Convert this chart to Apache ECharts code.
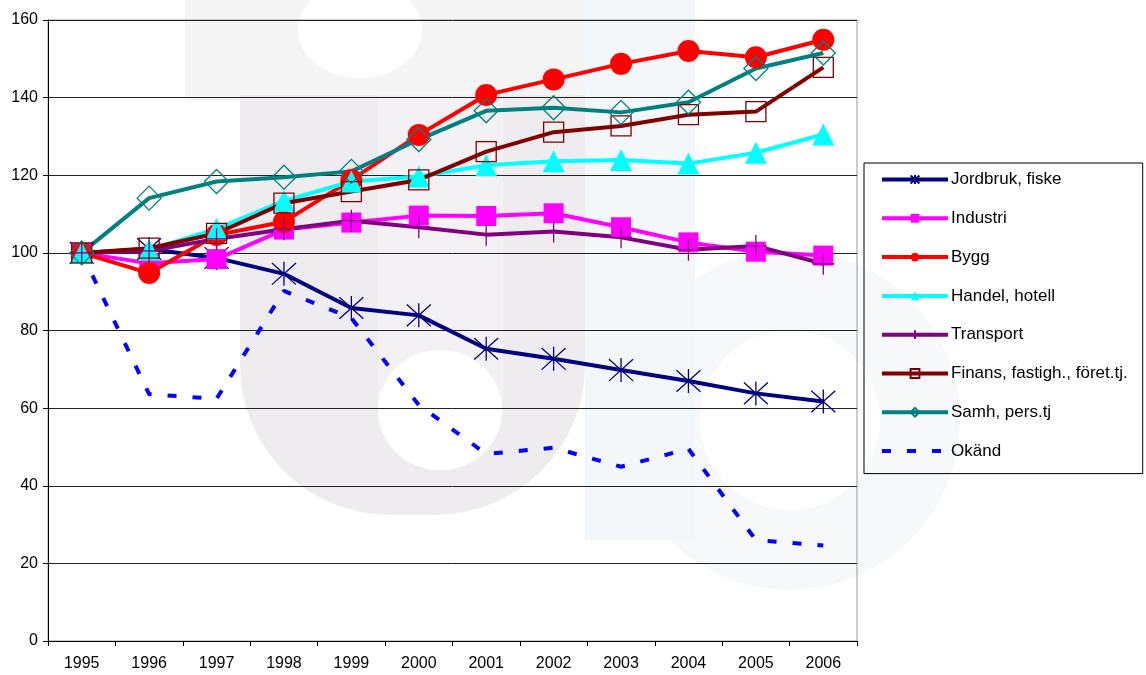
<!DOCTYPE html>
<html>
<head>
<meta charset="utf-8">
<script src="https://cdn.jsdelivr.net/npm/echarts@6/dist/echarts.min.js"></script>
<style>
  html, body { margin: 0; padding: 0; background: #fff; }
  #chart { width: 1146px; height: 675px; }
</style>
</head>
<body>
<div id="chart"></div>
<script>
const years = ['1995', '1996', '1997', '1998', '1999', '2000', '2001', '2002', '2003', '2004', '2005', '2006']

const jordbruk = [100, 101, 98.7, 94.6, 85.8, 83.9, 75.3, 72.7, 69.8, 67, 63.8, 61.7]
const industri = [100, 97.3, 98.4, 106, 107.8, 109.6, 109.5, 110.2, 106.6, 102.7, 100.3, 99.3]
const bygg = [100, 94.8, 104.6, 108, 118.8, 130.4, 140.7, 144.7, 148.7, 152, 150.4, 154.9]
const handel = [100, 100.8, 106.2, 113.4, 118.4, 119.7, 122.6, 123.6, 123.9, 123, 125.8, 130.5]
const transport = [100, 100.5, 103.6, 106.1, 108.3, 106.6, 104.7, 105.5, 104, 100.8, 101.8, 97.2]
const finans = [100, 101.2, 105, 112.8, 115.8, 118.8, 126.1, 131.1, 132.7, 135.6, 136.4, 147.8]
const samh = [100, 114.1, 118.4, 119.5, 121, 129.2, 136.6, 137.4, 136.2, 138.8, 147.5, 151.5]
const okand = [100, 63.6, 62.4, 90.2, 83.2, 60.8, 48.2, 49.8, 44.9, 49.5, 26, 24.6]

const asterisk = 'path://M0,1L22,19M22,1L0,19M11,0L11,20'
const plus = 'path://M10,0L10,22M3,11L17,11'

function lineSeries(name, data, color, symbol, size, filled, extra) {
  return Object.assign({
    name,
    type: 'line',
    data,
    symbol,
    symbolSize: size,
    showAllSymbol: true,
    lineStyle: { color, width: 4 },
    itemStyle: filled
      ? { color, borderColor: color, borderWidth: 0 }
      : { color: 'rgba(0,0,0,0)', borderColor: color, borderWidth: 1.3 },
    emphasis: { disabled: true },
  }, extra || {})
}

// faint background logo
const wm = '#efecf0'
const wmBlue = '#f3f7fa'
const chart = echarts.init(document.getElementById('chart'))
chart.setOption({
  animation: false,
  textStyle: { fontFamily: 'Liberation Sans, Arial, sans-serif' },
  graphic: [
    { type: 'rect', z: -10, shape: { x: 185, y: 0, width: 400, height: 100 }, style: { fill: '#f5f5f5' } },
    { type: 'ellipse', z: -9, shape: { cx: 360, cy: 30, rx: 62, ry: 48 }, style: { fill: '#fff' } },
    { type: 'rect', z: -10, shape: { x: 240, y: 95, width: 345, height: 420, r: [0, 0, 150, 150] }, style: { fill: wm } },
    { type: 'rect', z: -9, shape: { x: 378, y: 95, width: 125, height: 375, r: [0, 0, 60, 60] }, style: { fill: '#f3f1f4' } },
    { type: 'ellipse', z: -8, shape: { cx: 440, cy: 410, rx: 62, ry: 60 }, style: { fill: '#fff' } },
    { type: 'circle', z: -10, shape: { cx: 790, cy: 420, r: 170 }, style: { fill: '#f6f8fa' } },
    { type: 'circle', z: -9, shape: { cx: 790, cy: 420, r: 90 }, style: { fill: '#fff' } },
    { type: 'rect', z: -8, shape: { x: 585, y: 0, width: 110, height: 540 }, style: { fill: wmBlue } },
  ],
  grid: {
    left: 48, right: 289, top: 20, bottom: 34,
    show: true, borderColor: '#999', borderWidth: 1, backgroundColor: 'transparent',
  },
  legend: {
    orient: 'vertical',
    left: 864, top: 163,
    padding: [8, 15, 14, 16],
    borderColor: '#000', borderWidth: 1,
    itemWidth: 66, itemHeight: 11, itemGap: 21.8,
    lineStyle: { width: 4 },
    textStyle: { fontSize: 17, color: '#000', lineHeight: 16, padding: [0, 0, 0, -2] },
    data: ['Jordbruk, fiske', 'Industri', 'Bygg', 'Handel, hotell', 'Transport',
      'Finans, fastigh., föret.tj.', 'Samh, pers.tj',
      { name: 'Okänd', itemStyle: { opacity: 0 } }],
  },
  xAxis: {
    type: 'category',
    data: years,
    boundaryGap: true,
    axisLine: { lineStyle: { color: '#000', width: 1 } },
    axisTick: { show: true, length: 5, interval: 0, lineStyle: { color: '#000' } },
    axisLabel: { color: '#000', fontSize: 16, margin: 15 },
  },
  yAxis: {
    type: 'value',
    min: 0, max: 160, interval: 20,
    axisLine: { show: true, lineStyle: { color: '#000', width: 1 } },
    axisTick: { show: true, length: 5, lineStyle: { color: '#000' } },
    axisLabel: { color: '#000', fontSize: 16, margin: 10 },
    splitLine: { lineStyle: { color: '#222', width: 1 } },
  },
  series: [
    lineSeries('Jordbruk, fiske', jordbruk, '#000080', asterisk, 24, false),
    lineSeries('Industri', industri, '#ff00ff', 'rect', 20, true),
    lineSeries('Bygg', bygg, '#ff0000', 'circle', 22, true),
    lineSeries('Handel, hotell', handel, '#00ffff', 'triangle', 22, true),
    lineSeries('Transport', transport, '#800080', plus, 22, false),
    lineSeries('Finans, fastigh., föret.tj.', finans, '#800000', 'rect', 20, false),
    lineSeries('Samh, pers.tj', samh, '#008080', 'diamond', 24, false),
    lineSeries('Okänd', okand, '#0000ff', 'none', 0, true, {
      lineStyle: { color: '#0000ff', width: 4, type: [9, 16] },
    }),
  ],
})
window.addEventListener('resize', () => chart.resize())
</script>
</body>
</html>
